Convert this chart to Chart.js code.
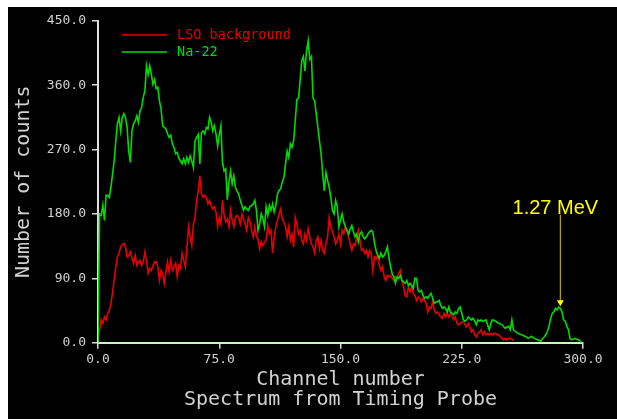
<!DOCTYPE html>
<html>
<head>
<meta charset="utf-8">
<script src="https://cdn.jsdelivr.net/npm/chart.js@4.4.1/dist/chart.umd.min.js"></script>
<style>
  html, body { margin: 0; padding: 0; background: #fff; }
  #panel { position: absolute; left: 8px; top: 7px; width: 609px; height: 412px; background: #000; }
</style>
</head>
<body>
<div id="panel"><canvas id="spectrum" width="609" height="412"></canvas></div>
<script>
// Spectrum from the timing probe: counts per channel, one value per channel starting at 0.

const seriesNames = ['LSO background', 'Na-22'];

const lsoCounts = [
  4, 18, 32, 27, 36, 32, 41, 45, 55, 70,
  88, 106, 120, 125, 134, 137, 139, 134, 120, 122,
  127, 118, 111, 122, 108, 113, 115, 108, 113, 127,
  113, 97, 104, 101, 108, 113, 113, 106, 87, 101,
  97, 83, 99, 113, 99, 115, 101, 106, 111, 92,
  108, 104, 125, 115, 106, 134, 162, 148, 136, 166,
  175, 199, 212, 233, 208, 203, 206, 203, 194, 199,
  192, 187, 190, 182, 162, 175, 166, 199, 178, 169,
  173, 162, 185, 171, 162, 175, 178, 175, 166, 180,
  173, 166, 157, 175, 169, 157, 148, 162, 148, 145,
  131, 141, 136, 141, 143, 164, 152, 157, 125, 148,
  162, 171, 180, 187, 173, 168, 162, 148, 162, 143,
  152, 134, 175, 166, 152, 157, 143, 138, 152, 143,
  159, 148, 138, 134, 125, 143, 148, 131, 143, 129,
  125, 138, 148, 175, 162, 155, 148, 138, 143, 152,
  138, 157, 152, 162, 157, 148, 138, 129, 138, 136,
  148, 157, 143, 129, 131, 125, 129, 120, 129, 125,
  101, 120, 117, 122, 108, 101, 106, 92, 87, 94,
  92, 94, 90, 87, 92, 90, 97, 101, 87, 78,
  66, 64, 78, 71, 78, 69, 66, 59, 64, 62,
  57, 62, 59, 55, 43, 50, 48, 57, 46, 41,
  43, 39, 36, 34, 41, 36, 41, 36, 41, 36,
  32, 36, 27, 25, 27, 29, 29, 25, 22, 27,
  22, 15, 18, 11, 8, 13, 15, 18, 11, 15,
  11, 13, 11, 13, 11, 13, 13, 11, 11, 8,
  6, 4, 6, 4, 6, 6, 5, 3
];

const naCounts = [
  0, 180, 178, 192, 171, 206, 206, 203, 217, 236,
  254, 282, 306, 315, 296, 315, 320, 315, 301, 268,
  252, 296, 306, 310, 317, 308, 324, 329, 343, 352,
  387, 375, 387, 375, 361, 368, 355, 357, 338, 327,
  303, 301, 299, 292, 287, 290, 278, 273, 264, 266,
  258, 254, 250, 257, 250, 259, 252, 261, 254, 245,
  282, 287, 291, 250, 294, 296, 292, 301, 299, 315,
  308, 296, 303, 292, 275, 290, 303, 252, 240, 243,
  200, 225, 240, 222, 233, 217, 212, 208, 199, 192,
  185, 190, 187, 185, 190, 192, 194, 199, 185, 157,
  166, 180, 173, 162, 190, 178, 192, 185, 194, 183,
  192, 208, 213, 215, 225, 231, 250, 268, 259, 278,
  273, 282, 310, 340, 342, 366, 394, 400, 380, 408,
  422, 396, 400, 342, 338, 320, 301, 282, 264, 236,
  212, 238, 227, 217, 203, 185, 180, 199, 190, 162,
  171, 180, 169, 162, 157, 152, 159, 164, 155, 148,
  152, 141, 152, 155, 148, 145, 148, 152, 155, 157,
  155, 140, 129, 122, 118, 125, 120, 122, 127, 134,
  118, 106, 96, 92, 83, 92, 90, 94, 87, 85,
  83, 87, 80, 83, 80, 76, 90, 90, 73, 71,
  73, 66, 62, 64, 62, 66, 69, 62, 55, 57,
  57, 59, 52, 48, 50, 48, 43, 50, 43, 41,
  39, 43, 41, 48, 50, 41, 32, 30, 32, 36,
  34, 32, 34, 30, 25, 32, 30, 32, 30, 31,
  32, 25, 18, 27, 32, 31, 30, 28, 27, 26,
  25, 22, 20, 22, 23, 18, 32, 18, 16, 14,
  13, 12, 11, 10, 9, 8, 6, 7, 9, 7,
  6, 5, 4, 3, 2, 6, 8, 11, 16, 23,
  34, 41, 43, 48, 46, 50, 48, 43, 32, 30,
  23, 18, 6, 4, 5, 6, 5, 4, 3, 0
];

const channelTicks = [0, 75, 150, 225, 300];
const countTicks = [0, 90, 180, 270, 360, 450];

// 1.27 MeV photopeak marker: channel, arrow tip and arrow tail in counts
const peakLabel = '1.27 MeV';
const peakChannel = 286;
const peakTip = 51;
const peakTail = 179;

const AXIS_FONT = '"DejaVu Sans Mono", monospace';
const TEXT = '#d2d2d2';

const toPoints = counts => counts.map((c, ch) => ({ x: ch, y: c }));

const probeLegend = {
  id: 'probeLegend',
  afterDraw(chart) {
    const ctx = chart.ctx;
    ctx.save();
    ctx.font = '13.5px ' + AXIS_FONT;
    ctx.textBaseline = 'middle';
    ctx.textAlign = 'left';
    chart.data.datasets.forEach((ds, row) => {
      const y = 28 + row * 17;
      ctx.strokeStyle = ds.borderColor;
      ctx.lineWidth = 1.6;
      ctx.beginPath();
      ctx.moveTo(114, y);
      ctx.lineTo(159, y);
      ctx.stroke();
      ctx.fillStyle = ds.borderColor;
      ctx.fillText(ds.label, 169, y);
    });
    ctx.restore();
  }
};

const peakMarker = {
  id: 'peakMarker',
  afterDraw(chart) {
    const { ctx, scales } = chart;
    const x = scales.x.getPixelForValue(peakChannel);
    const yTip = scales.y.getPixelForValue(peakTip);
    const yTail = scales.y.getPixelForValue(peakTail);
    ctx.save();
    ctx.strokeStyle = '#b8a400';
    ctx.lineWidth = 1.2;
    ctx.beginPath();
    ctx.moveTo(x, yTail);
    ctx.lineTo(x, yTip - 5);
    ctx.stroke();
    ctx.fillStyle = '#ffff00';
    ctx.beginPath();
    ctx.moveTo(x, yTip);
    ctx.lineTo(x - 3.5, yTip - 6);
    ctx.lineTo(x + 3.5, yTip - 6);
    ctx.closePath();
    ctx.fill();
    ctx.font = '20px "Liberation Sans", Arial, sans-serif';
    ctx.textAlign = 'center';
    ctx.textBaseline = 'alphabetic';
    ctx.fillText(peakLabel, x - 5, yTail - 1);
    ctx.restore();
  }
};

new Chart(document.getElementById('spectrum'), {
  type: 'line',
  data: {
    datasets: [
      {
        label: seriesNames[0],
        data: toPoints(lsoCounts),
        borderColor: '#e60000',
        borderWidth: 1.6,
        pointRadius: 0,
        tension: 0,
        order: 2,
      },
      {
        label: seriesNames[1],
        data: toPoints(naCounts),
        borderColor: '#00dc00',
        borderWidth: 1.6,
        pointRadius: 0,
        tension: 0,
        order: 1,
      },
    ],
  },
  options: {
    responsive: false,
    animation: false,
    layout: { padding: { top: 12.5, right: 34, left: 0, bottom: 0 } },
    plugins: {
      legend: { display: false },
      tooltip: { enabled: false },
    },
    scales: {
      x: {
        type: 'linear',
        min: channelTicks[0],
        max: channelTicks[channelTicks.length - 1],
        afterFit: s => { s.height = 76.3; },
        afterBuildTicks: s => { s.ticks = channelTicks.map(v => ({ value: v })); },
        ticks: {
          color: TEXT,
          padding: 3,
          font: { family: AXIS_FONT, size: 13 },
          callback: v => Number(v).toFixed(1),
        },
        grid: { drawOnChartArea: false, drawTicks: true, tickLength: 6, color: '#d8d8d8', lineWidth: 1.5 },
        border: { display: true, color: '#c8f5c0', width: 2 },
        title: {
          display: true,
          text: ['Channel number', 'Spectrum from Timing Probe'],
          color: TEXT,
          font: { family: AXIS_FONT, size: 20, lineHeight: 1.0 },
          padding: { top: 0, bottom: 9.4 },
        },
      },
      y: {
        min: countTicks[0],
        max: countTicks[countTicks.length - 1],
        afterFit: s => { s.width = 90; },
        afterBuildTicks: s => { s.ticks = countTicks.map(v => ({ value: v })); },
        ticks: {
          color: TEXT,
          padding: 6,
          font: { family: AXIS_FONT, size: 13 },
          callback: v => Number(v).toFixed(1),
        },
        grid: { drawOnChartArea: false, drawTicks: true, tickLength: 6, color: '#d8d8d8', lineWidth: 1.5 },
        border: { display: true, color: '#e0e0e0', width: 2 },
        title: {
          display: true,
          text: 'Number of counts',
          color: TEXT,
          font: { family: AXIS_FONT, size: 20, lineHeight: 1.2 },
          padding: { top: 4, bottom: 0 },
        },
      },
    },
  },
  plugins: [probeLegend, peakMarker],
});
</script>
</body>
</html>
